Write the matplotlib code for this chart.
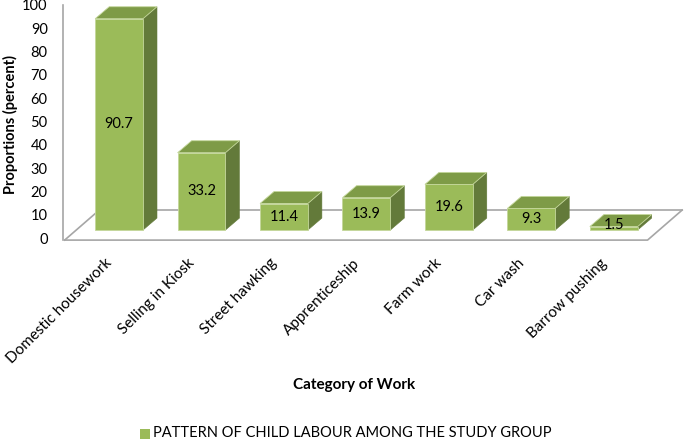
import matplotlib.pyplot as plt
from matplotlib.patches import Polygon
import numpy as np

categories = ['Domestic housework', 'Selling in Kiosk', 'Street hawking', 'Apprenticeship',
              'Farm work', 'Car wash', 'Barrow pushing']
values = [90.7, 33.2, 11.4, 13.9, 19.6, 9.3, 1.5]
legend_label = 'PATTERN OF CHILD LABOUR AMONG THE STUDY GROUP'

plt.rcParams['font.family'] = ['Lato', 'DejaVu Sans']

front_col = '#9bbb59'
top_col = '#7e9b47'
side_col = '#637a3a'
edge_col = '#c4d79b'
axis_col = '#a6a6a6'

fig = plt.figure(figsize=(6.85, 4.41), dpi=100)
ax = fig.add_axes([63 / 685, 1 - 238 / 441, 620 / 685, 233 / 441])
ax.set_xlim(-0.68, 6.84)
ax.set_ylim(0, 100)

# pseudo-3d geometry (in data units)
half_w = 0.29
ddx, ddy = 0.17, 5.15      # bar depth offset
base = 3.4                 # front face bottom of bars
fl_front, fl_back = -0.9, 12.0
fl_left, fl_right, fl_dx = -0.66, 6.41, 0.42

# floor outline
ax.plot([fl_left + fl_dx, fl_right + fl_dx], [fl_back, fl_back], color=axis_col, lw=1.2, zorder=1, clip_on=False)
ax.plot([fl_left, fl_right, fl_right + fl_dx], [fl_front, fl_front, fl_back], color=axis_col, lw=1.2,
        zorder=5, clip_on=False)
ax.plot([fl_left, fl_left + fl_dx], [fl_front, fl_back], color=axis_col, lw=1.2, zorder=1, clip_on=False)
ax.plot([-0.68, -0.68], [fl_front, 100], color=axis_col, lw=1.2, zorder=1, clip_on=False)

x = np.arange(len(values))
for xi, v in zip(x, values):
    x0, x1 = xi - half_w, xi + half_w
    y0, y1 = base, base + v
    top = Polygon([(x0, y1), (x1, y1), (x1 + ddx, y1 + ddy), (x0 + ddx, y1 + ddy)],
                  closed=True, fc=top_col, ec=edge_col, lw=0.6, zorder=3, clip_on=False)
    side = Polygon([(x1, y0), (x1 + ddx, y0 + ddy), (x1 + ddx, y1 + ddy), (x1, y1)],
                   closed=True, fc=side_col, ec=side_col, lw=0.4, zorder=3, clip_on=False)
    ax.add_patch(side)
    ax.add_patch(top)
    ax.bar(xi, v, width=2 * half_w, bottom=base, color=front_col, edgecolor=edge_col, lw=0.6, zorder=4)
    ax.text(xi, base + max(v, 4) / 2, f'{v}', ha='center', va='center', fontsize=10.5, zorder=6)

for s in ax.spines.values():
    s.set_visible(False)
ax.set_yticks(range(0, 101, 10))
ax.tick_params(axis='y', length=0, pad=11, labelsize=10.5)
ax.set_xticks([])

for xi, c in zip(x, categories):
    ax.text(xi - 0.17, -7.8, c, rotation=45, ha='right', va='top', rotation_mode='anchor',
            fontsize=11, clip_on=False)

fig.text(10 / 685, 1 - 124 / 441, 'Proportions (percent)', rotation=90, ha='center', va='center',
         fontsize=10.5, fontweight='bold')
fig.text(354 / 685, 1 - 385 / 441, 'Category of Work', ha='center', va='center',
         fontsize=11, fontweight='bold')

fig.patches.append(plt.Rectangle((140 / 685, 1 - 439 / 441), 10 / 685, 10 / 441,
                                 transform=fig.transFigure, fc=front_col, ec='none'))
fig.text(153 / 685, 1 - 433 / 441, legend_label, ha='left', va='center', fontsize=10.5)

fig.savefig('out.png', dpi=100)
